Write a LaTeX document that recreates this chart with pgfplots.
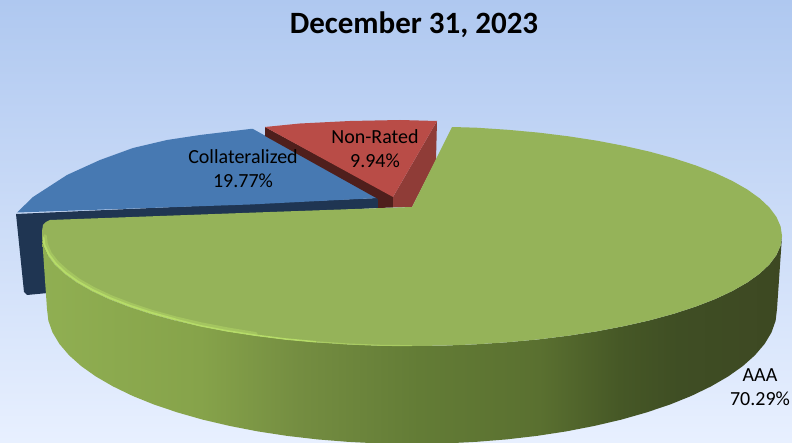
\documentclass[border=0pt]{standalone}
\usepackage{pgfplots}
\pgfplotsset{compat=1.18}
\usepackage{fontspec}
\setmainfont{Carlito}
\definecolor{bgtop}{HTML}{AFC8F0}
\definecolor{bgbot}{HTML}{E8F0FF}
\definecolor{aaatop}{HTML}{95B359}
\definecolor{aaarim}{HTML}{B6DC68}
\definecolor{coltop}{HTML}{4779B2}
\definecolor{coldark}{HTML}{1F3552}
\definecolor{nrtop}{HTML}{B94C47}
\definecolor{nrside}{HTML}{8F3C37}
\definecolor{nrdark}{HTML}{4F1F1C}
\definecolor{wa}{HTML}{90AF52}
\definecolor{wb}{HTML}{86A34A}
\definecolor{wc}{HTML}{748D41}
\definecolor{wd}{HTML}{637C36}
\definecolor{we}{HTML}{5A7030}
\definecolor{wf}{HTML}{465826}
\definecolor{wg}{HTML}{3F4E24}
\definecolor{wh}{HTML}{3D4822}
% Side wall of the AAA slice, lit from the left
\pgfdeclarehorizontalshading{aaawall}{100bp}{
  color(0bp)=(wa);
  color(25bp)=(wa);
  color(35.7bp)=(wb);
  color(42.4bp)=(wc);
  color(50.5bp)=(wd);
  color(58.6bp)=(we);
  color(64bp)=(wf);
  color(68bp)=(wg);
  color(75bp)=(wh);
  color(100bp)=(wh)}
\begin{document}
\begin{tikzpicture}
\begin{axis}[
  scale only axis, width=792pt, height=443pt,
  xmin=0, xmax=792, ymin=0, ymax=443, y dir=reverse,
  hide axis, clip=true]
% background panel
\addplot[draw=none, top color=bgtop, bottom color=bgbot]
  coordinates {(0,0) (792,0) (792,443) (0,443)};
% Collateralized 19.77%: wall, then top face
\addplot[draw=none, fill=coldark] coordinates {
  (16,214) (378,198) (378,208) (48,226) (48,293) (27,295) (24,292)};
\addplot[draw=none, fill=coltop] coordinates {
  (17,212.5) (33,197) (67,175) (100,160) (133,148) (167,140) (200,135)
  (250,129) (253,129) (378,198) (250,204.5)};
% Non-Rated 9.94%: inner wall, outer wall, top face
\addplot[draw=none, fill=nrdark] coordinates {
  (265,127) (393,196) (393,207.5) (378,208) (378,199) (265,136)};
\addplot[draw=none, fill=nrside] coordinates {
  (437,121) (436,160) (412,207) (393,207.5) (393,197)};
\addplot[draw=none, fill=nrtop] coordinates {
  (265,127) (300,123.5) (350,121) (400,120) (437,121) (393,197)};
% AAA 70.29%: curved wall
\addplot[draw=none, shading=aaawall] coordinates {
  (782,236) (780.6,245.6) (776.4,255.1) (769.4,264.5) (759.7,273.6) (747.3,282.5)
  (732.4,291) (715.1,299.1) (695.4,306.7) (673.6,313.8) (649.8,320.3) (624.2,326.1)
  (597,331.3) (568.4,335.7) (538.5,339.4) (507.8,342.2) (476.2,344.3) (444.3,345.6)
  (412,346) (379.7,345.6) (347.8,344.3) (316.2,342.2) (285.5,339.4) (255.6,335.7)
  (227,331.3) (199.8,326.1) (174.2,320.3) (150.4,313.8) (128.6,306.7) (108.9,299.1)
  (91.6,291) (76.7,282.5) (64.3,273.6) (54.6,264.5) (47.6,255.1) (43.4,245.6) (42,236)
  (47,309)
  (48.4,320.8) (52.5,332.4) (59.4,343.9) (69,355.2) (81.2,366.1) (95.9,376.5)
  (113,386.4) (132.4,395.8) (153.9,404.5) (177.4,412.4) (202.6,419.6) (229.5,425.9)
  (257.8,431.4) (287.2,435.9) (317.5,439.4) (348.6,441.9) (380.2,443.5) (412,444)
  (443.8,443.5) (475.4,441.9) (506.5,439.4) (536.8,435.9) (566.2,431.4) (594.5,425.9)
  (621.4,419.6) (646.6,412.4) (670.1,404.5) (691.6,395.8) (711,386.4) (728.1,376.5)
  (742.8,366.1) (755,355.2) (764.6,343.9) (771.5,332.4) (775.6,320.8) (777,309)};
% AAA top face
\addplot[draw=none, fill=aaatop] coordinates {
  (412,207) (452,127) (476.2,127.7) (507.8,129.8) (538.5,132.6) (568.4,136.3) (597,140.7)
  (624.2,145.9) (649.8,151.7) (673.6,158.2) (695.4,165.3) (715.1,172.9) (732.4,181)
  (747.3,189.5) (759.7,198.4) (769.4,207.5) (776.4,216.9) (780.6,226.4) (782,236)
  (780.6,245.6) (776.4,255.1) (769.4,264.5) (759.7,273.6) (747.3,282.5)
  (732.4,291) (715.1,299.1) (695.4,306.7) (673.6,313.8) (649.8,320.3) (624.2,326.1)
  (597,331.3) (568.4,335.7) (538.5,339.4) (507.8,342.2) (476.2,344.3) (444.3,345.6)
  (412,346) (379.7,345.6) (347.8,344.3) (316.2,342.2) (285.5,339.4) (255.6,335.7)
  (227,331.3) (199.8,326.1) (174.2,320.3) (150.4,313.8) (128.6,306.7) (108.9,299.1)
  (91.6,291) (76.7,282.5) (64.3,273.6) (54.6,264.5) (47.6,255.1) (43.4,245.6) (42,236)
  (42,231) (43,225) (46,222) (50,220) (270,212)};
% soft band and highlight along the front edge of the AAA top face
\addplot[aaarim!45!aaatop, line width=3.6pt, line cap=round] coordinates {
  (45,236) (46,244) (50,253.5) (57,262.5) (67,271.5) (79,280.5) (94,289)
  (111,297) (131,304.7) (152.4,311.8) (176,318.3) (201,324.1) (228,329.3) (256,333.9)};
\addplot[aaarim, line width=2pt, line cap=round] coordinates {
  (43.5,238) (44.4,245) (48.6,254.1) (55.6,263.5) (65.3,272.6) (77.7,281.5) (92.6,290)
  (109.9,298.1) (129.6,305.7) (151.4,312.8) (175.2,319.3)};
\addplot[aaarim, line width=1.5pt] coordinates {
  (175.2,319.3) (199.8,325.6) (227,330.8) (255.6,335.2) (285.5,339) (316.2,341.8)};
\addplot[aaarim!60!aaatop, line width=1.1pt] coordinates {
  (316.2,341.8) (347.8,344) (379.7,345.3) (412,345.7)};
% labels
\node[anchor=center, font=\fontsize{31}{36}\selectfont\bfseries] at (axis cs:414,25) {December 31, 2023};
\node[anchor=center, align=center, font=\fontsize{20}{24}\selectfont] at (axis cs:243,169) {Collateralized\\19.77\%};
\node[anchor=center, align=center, font=\fontsize{20}{24}\selectfont] at (axis cs:375,149) {Non-Rated\\9.94\%};
\node[anchor=center, align=center, font=\fontsize{20}{24}\selectfont] at (axis cs:760,387) {AAA\\70.29\%};
\end{axis}
\end{tikzpicture}
\end{document}
